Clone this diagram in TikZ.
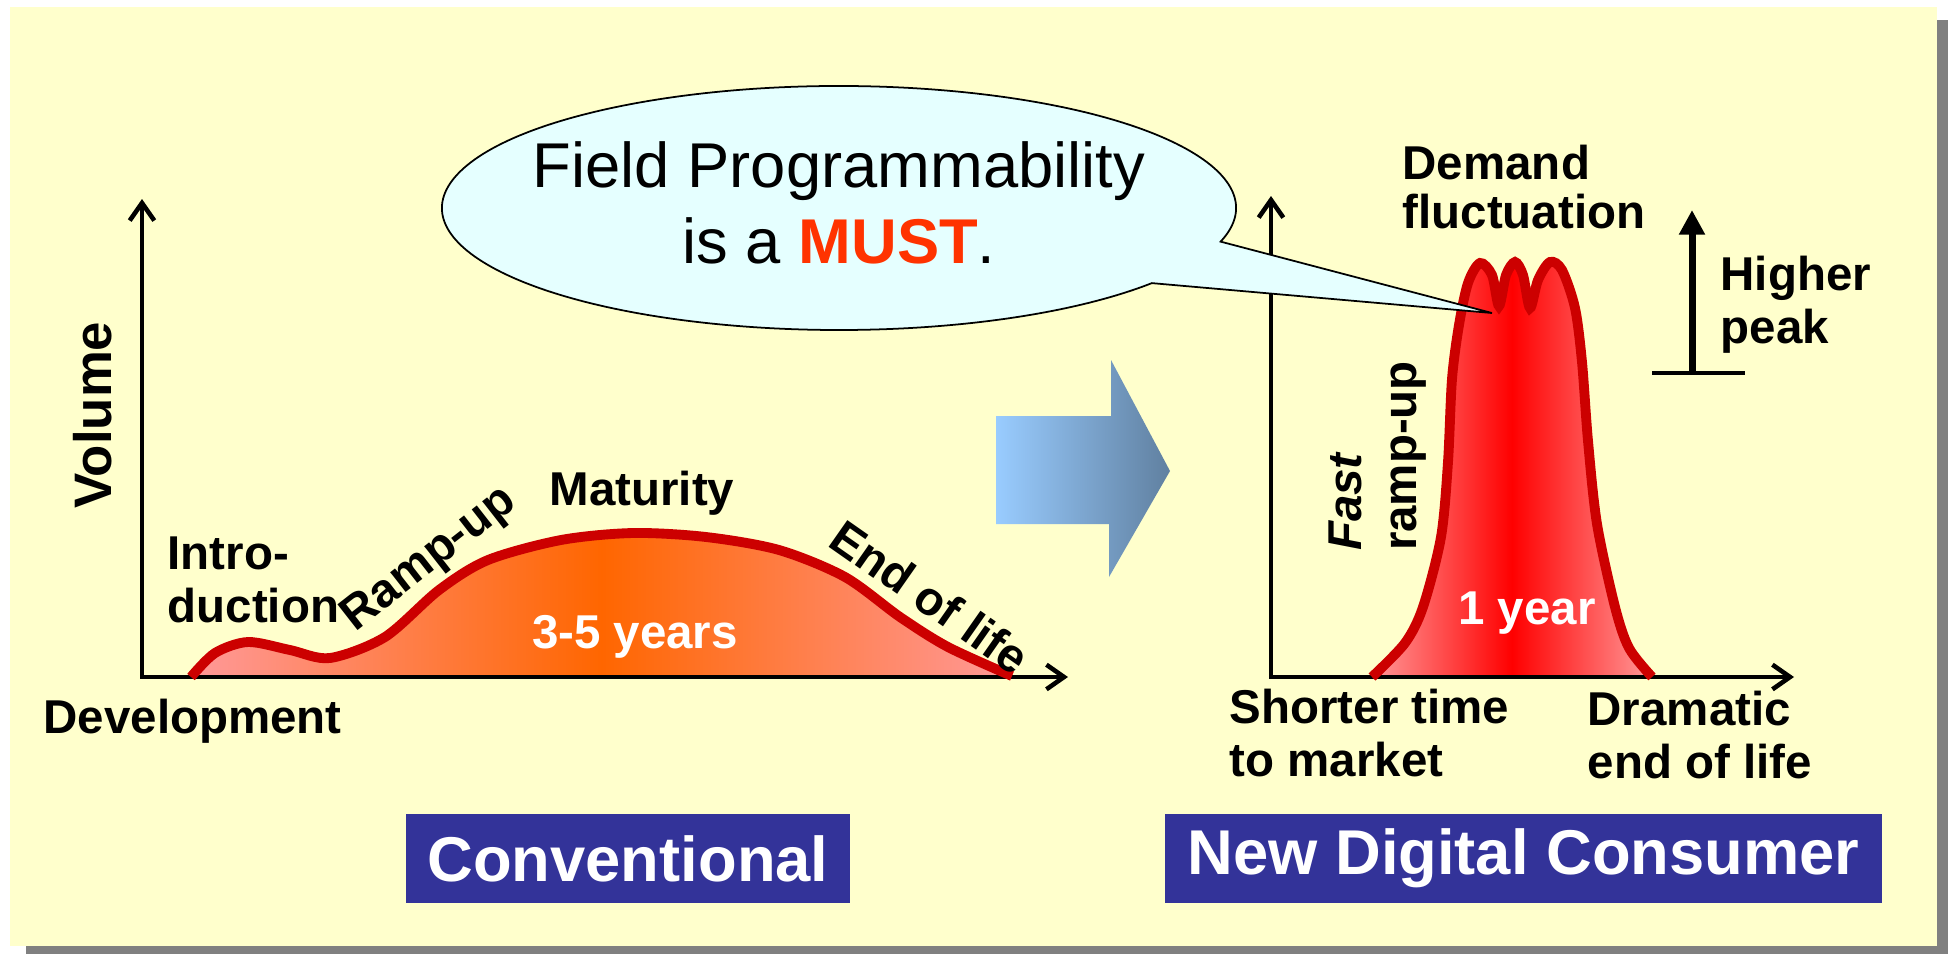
\documentclass[tikz,border=0pt]{standalone}
\usepackage{fontspec}
\setmainfont{Liberation Sans}
\usepackage{tikz}
\usetikzlibrary{arrows.meta}
\definecolor{paper}{HTML}{FFFFCC}
\definecolor{shadowgray}{HTML}{808080}
\definecolor{curvered}{HTML}{CC0000}
\definecolor{softpink}{HTML}{FF9999}
\definecolor{hotorange}{HTML}{FF6600}
\definecolor{navyblue}{HTML}{333399}
\definecolor{bubblecyan}{HTML}{E5FFFF}
\definecolor{mustred}{HTML}{FF3300}
\definecolor{arrowlight}{HTML}{99CCFF}
\definecolor{arrowdark}{HTML}{6080A0}

\newcommand\convcurve{plot[smooth] coordinates {(191,677) (215,653) (248,642) (290,650)
  (330,658) (385,637) (439,590) (488,560) (561,540) (633,533) (706,537) (779,550)
  (845,577) (900,617) (948,647) (1012,676)}}
\newcommand\digicurve{plot[smooth] coordinates {(1372,677) (1405,643) (1423,607) (1441,537)
  (1448,462) (1452,379) (1459,325) (1468,283) (1480,263) (1492,275) (1499,306) (1506,275)
  (1515,262) (1523,275) (1530,308) (1538,280) (1550,262) (1562,270) (1575,308) (1582,362)
  (1588,441) (1597,524) (1615,607) (1629,648) (1652,677)}}

\begin{document}
\begin{tikzpicture}[x=0.01cm,y=-0.01cm,>={Straight Barb[length=5pt,width=7pt]},
                    lbl/.style={font=\bfseries\fontsize{13.5}{14.8}\selectfont,inner sep=0pt},
                    axis/.style={line width=1.3pt},
                    curve/.style={draw=curvered,line width=2.8pt},
                    titlebox/.style={fill=navyblue,text=white,inner sep=0pt,minimum height=0.89cm,
                                     font=\bfseries\fontsize{18}{20}\selectfont},
                    bubble/.style={draw=black,fill=bubblecyan,line width=0.5pt}]
\useasboundingbox (0,0) rectangle (1948,954);
% slide
\fill[shadowgray] (26,20) rectangle (1948,954);
\fill[paper] (10,7) rectangle (1937,946);

% curves
\shade[left color=softpink,right color=softpink,middle color=hotorange] \convcurve -- cycle;
\shade[left color=softpink,right color=softpink,middle color=red] \digicurve -- cycle;

% axes
\coordinate (o1) at (142,677);
\coordinate (y1) at (142,199);
\coordinate (x1) at (1068,677);
\coordinate (o2) at (1271,677);
\coordinate (y2) at (1271,196);
\coordinate (x2) at (1794,677);
\draw[axis,<->] (y1) -- (o1) -- (x1);
\draw[axis,<->] (y2) -- (o2) -- (x2);

\draw[curve] \convcurve;
\draw[curve] \digicurve;

% conventional
\node[lbl,rotate=90,font=\bfseries\fontsize{15}{16}\selectfont] (volume) at (93,415) {Volume};
\node[lbl,align=left,anchor=base west] (intro) at (167,622) {Intro-\\duction};
\node[lbl,rotate=38] (rampup) at (430,560) {Ramp-up};
\node[lbl,anchor=base] (maturity) at (642,505) {Maturity};
\node[lbl,rotate=-35] (endlife) at (930,597) {End of life};
\node[lbl,anchor=base,text=white] (years) at (635,648) {3-5 years};
\node[lbl,anchor=base west] (devel) at (43,733) {Development};
\node[titlebox,minimum width=4.44cm] (conv) at (628,858.5) {Conventional};

% arrow between
\shade[left color=arrowlight,right color=arrowdark]
  (996,416) -- (1111,416) -- (1111,360) -- (1170,471) -- (1109,577) -- (1109,524) -- (996,524) -- cycle;

% digital consumer
\node[lbl,align=left,anchor=base west,font=\bfseries\fontsize{13.5}{13.7}\selectfont]
  (demand) at (1402,228) {Demand\\fluctuation};
\coordinate (hpbase) at (1692,373);
\coordinate (hptop) at (1692,210);
\coordinate (hpleft) at (1652,373);
\coordinate (hpright) at (1745,373);
\draw[line width=2pt,-{Triangle[length=7pt,width=7pt]}] (hpbase) -- (hptop);
\draw[line width=1pt] (hpleft) -- (hpright);
\node[lbl,align=left,anchor=base west] (higher) at (1720,343) {Higher\\peak};
\node[lbl,rotate=90,align=left,font=\bfseries\fontsize{13.5}{15.6}\selectfont]
  (fast) at (1378,456) {{\itshape Fast}\\ramp-up};
\node[lbl,anchor=base,text=white] (oneyear) at (1527,624) {1 year};
\node[lbl,align=left,anchor=base west] (shorter) at (1229,776) {Shorter time\\to market};
\node[lbl,align=left,anchor=base west] (dramatic) at (1587,778) {Dramatic\\end of life};
\node[titlebox,minimum width=7.17cm] (newdc) at (1523.5,858.5) {New Digital Consumer};

% speech bubble
\coordinate (bc) at (839,208);
\coordinate (tip) at (1492,313);
\draw[bubble] (bc) ++(16:397 and 122)
  arc[start angle=16,end angle=-322,x radius=397,y radius=122] -- (tip) -- cycle;
\node[anchor=base,align=center,inner sep=0pt,font=\fontsize{18}{21.6}\selectfont]
  (fieldprog) at (839,263) {Field Programmability\\is a \textbf{\textcolor{mustred}{MUST}}.};
\end{tikzpicture}
\end{document}
